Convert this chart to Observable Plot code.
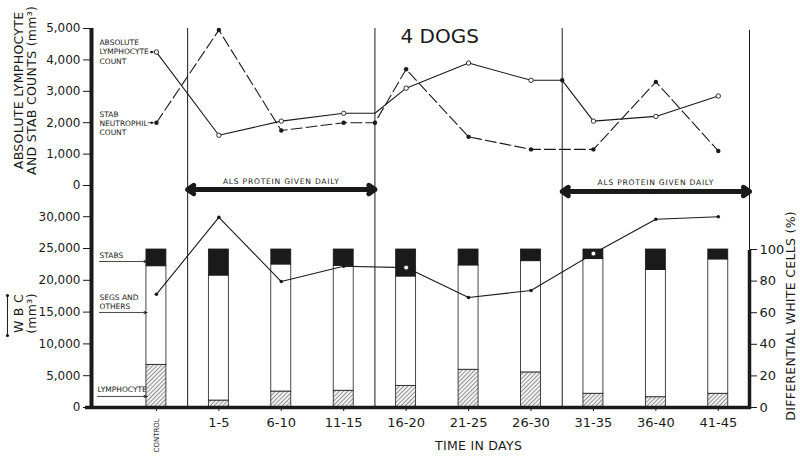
<!DOCTYPE html>
<html><head><meta charset="utf-8">
<script src="https://cdn.jsdelivr.net/npm/d3@7"></script>
<script src="https://cdn.jsdelivr.net/npm/@observablehq/plot@0.6"></script>
<style>
body{margin:0;background:#fff;}
#chart{position:relative;width:800px;height:462px;}
#chart svg{position:absolute;left:0;top:0;}
</style></head><body><div id="chart"></div>
<script>
// ---- data ----
const categories = ["CONTROL","1-5","6-10","11-15","16-20","21-25","26-30","31-35","36-40","41-45"];
// top panel positions on category index (x.5 = boundary of a treatment period)
const lymphPos   = [0, 1, 2, 3, 3.5, 4, 5, 6, 6.5, 7, 8, 9];
const lymphCount = [4250, 1600, 2050, 2300, 2300, 3100, 3900, 3350, 3350, 2050, 2200, 2850];
const stabPos    = [0, 1, 2, 3, 3.5, 4, 5, 6, 7, 8, 9];
const stabCount  = [2000, 4950, 1750, 2000, 2000, 3700, 1550, 1150, 1150, 3300, 1100];
// bottom panel
const wbc        = [17800, 29900, 19800, 22200, 22000, 17300, 18400, 24200, 29600, 30000];
const lymphPct   = [27, 4.4, 10.1, 10.6, 13.7, 23.9, 22.2, 8.7, 6.5, 8.7];
const stabPct    = [10.6, 16.5, 9.5, 10.3, 17.1, 10.1, 7.4, 6.1, 12.9, 6.3];
const alsPeriods = [[0.5, 3.5], [6.5, 9.5]];
const periodBounds = [0.5, 3.5, 6.5];
const topTicks = [0, 1000, 2000, 3000, 4000, 5000];
const wbcTicks = [0, 5000, 10000, 15000, 20000, 25000, 30000];
const pctTicks = [0, 20, 40, 60, 80, 100];

// ---- derived tables ----
const lymph = lymphPos.map((p, i) => ({pos: p, v: lymphCount[i]}));
const stab = stabPos.map((p, i) => ({pos: p, v: stabCount[i]}));
const wbcData = wbc.map((v, i) => ({i, v}));
const openWbc = d => d.i === 4 || d.i === 7;
const bars = [];
categories.forEach((c, i) => {
  const l = lymphPct[i], s = stabPct[i], g = 100 - l - s;
  bars.push({i, type: "lymph", y1: 0, y2: l});
  bars.push({i, type: "segs", y1: l, y2: l + g});
  bars.push({i, type: "stab", y1: l + g, y2: 100});
});

const ink = "#1a1a1a";
const font = "DejaVu Sans";
const common = {
  width: 800, height: 462,
  marginTop: 28, marginBottom: 55, marginLeft: 91, marginRight: 51,
  style: {background: "transparent", fontFamily: font, color: ink, overflow: "visible"},
  x: {domain: [-1.04, 9.5], axis: null}
};
const fill = {lymph: "url(#hatch)", segs: "white", stab: ink};

// ---- percent panel (bars + right axis) ----
const p3 = Plot.plot({
  ...common,
  y: {domain: [0, 100], range: [407, 249], axis: null},
  marks: [
    () => {
      const defs = d3.create("svg:defs");
      const p = defs.append("pattern").attr("id", "hatch").attr("patternUnits", "userSpaceOnUse")
        .attr("width", 3).attr("height", 3).attr("patternTransform", "rotate(45)");
      p.append("rect").attr("width", 3).attr("height", 3).attr("fill", "#f2f2f2");
      p.append("line").attr("x1", 0.5).attr("y1", 0).attr("x2", 0.5).attr("y2", 3)
        .attr("stroke", "#8a8a8a").attr("stroke-width", 0.9);
      return defs.node();
    },
    Plot.rect(bars, {x1: d => d.i - 0.16, x2: d => d.i + 0.16, y1: "y1", y2: "y2",
      fill: d => fill[d.type], stroke: ink, strokeWidth: 0.8}),
    Plot.ruleX([9.5], {y1: -1.3, y2: 99.4, strokeWidth: 3.5, stroke: ink}),
    Plot.axisY({ticks: pctTicks, anchor: "right", tickSize: 7, tickPadding: 3, fontSize: 13, label: null}),
    Plot.text(["DIFFERENTIAL WHITE CELLS (%)"], {x: 10.16, y: 58, rotate: -90, fontSize: 12.5, lineAnchor: "middle"}),
    // legend for bar segments
    Plot.text(["STABS"], {x: -0.912, y: 96.2, textAnchor: "start", fontSize: 7.5, lineAnchor: "middle"}),
    Plot.text(["SEGS AND\nOTHERS"], {x: -0.912, y: 66.8, textAnchor: "start", fontSize: 7.5, lineAnchor: "middle", lineHeight: 1.2}),
    Plot.text(["LYMPHOCYTE"], {x: -0.944, y: 11.4, textAnchor: "start", fontSize: 7.5, lineAnchor: "middle"}),
    Plot.arrow([92.4, 60.1, 7.0], {x1: (d, i) => i === 2 ? -0.944 : -0.912, x2: -0.15, y1: d => d, y2: d => d,
      strokeWidth: 0.8, headLength: 6, headAngle: 40, stroke: ink})
  ]
});

// ---- WBC panel ----
const p2 = Plot.plot({
  ...common,
  y: {domain: [0, 30000], range: [407, 216.2], axis: null},
  marks: [
    Plot.ruleX(periodBounds, {stroke: ink, strokeWidth: 1}),
    Plot.ruleX([9.5], {y1: 24700, y2: 59300, stroke: ink, strokeWidth: 1}),
    Plot.ruleX([-1.04], {strokeWidth: 4, stroke: ink}),
    Plot.ruleY([0], {x1: -1.136, x2: 9.53, strokeWidth: 3.5, stroke: ink}),
    Plot.axisY({ticks: wbcTicks, tickFormat: d3.format(","), anchor: "left", tickSize: 8, tickPadding: 3, fontSize: 12, label: null}),
    Plot.axisX({ticks: d3.range(categories.length), tickFormat: i => i === 0 ? "" : categories[i],
      anchor: "bottom", tickSize: 4, tickPadding: 6, fontSize: 13, label: null}),
    Plot.text(["CONTROL"], {x: 0, y: -1700, rotate: -90, textAnchor: "end", fontSize: 7, lineAnchor: "middle"}),
    Plot.text(["TIME IN DAYS"], {x: 5.16, y: -6130, fontSize: 12.5, lineAnchor: "middle"}),
    Plot.line(wbcData, {x: "i", y: "v", stroke: ink, strokeWidth: 1.1}),
    Plot.dot(wbcData.filter(d => !openWbc(d)), {x: "i", y: "v", r: 1.8, fill: ink}),
    Plot.dot(wbcData.filter(openWbc), {x: "i", y: "v", r: 2.4, fill: "white", stroke: ink, strokeWidth: 0.8}),
    Plot.text(["W B C\n(mm³)"], {x: -2.105, y: 14780, rotate: -90, fontSize: 12.5, lineAnchor: "middle", lineHeight: 1.05}),
    Plot.ruleX([-2.386], {y1: 11320, y2: 17610, stroke: ink, strokeWidth: 1}),
    Plot.dot([11320, 17610], {x: -2.386, y: d => d, r: 1.6, fill: ink})
  ]
});

// ---- top panel: counts ----
const p1 = Plot.plot({
  ...common,
  y: {domain: [0, 5000], range: [185, 28], axis: null},
  marks: [
    Plot.axisY({ticks: topTicks, tickFormat: d3.format(","), anchor: "left", tickSize: 8, tickPadding: 3, fontSize: 12, label: null}),
    Plot.text(["ABSOLUTE LYMPHOCYTE\nAND STAB COUNTS (mm³)"], {x: -2.105, y: 3030, rotate: -90, fontSize: 12.5, lineAnchor: "middle", lineHeight: 1.05}),
    Plot.line(lymph, {x: "pos", y: "v", stroke: ink, strokeWidth: 1.1}),
    Plot.line(stab, {x: "pos", y: "v", stroke: ink, strokeWidth: 1.1, strokeDasharray: "11,4"}),
    Plot.dot(lymph.filter(d => d.pos !== 3.5 && d.pos !== 6.5), {x: "pos", y: "v", r: 2.2,
      fill: "white", stroke: ink, strokeWidth: 0.9}),
    Plot.dot(lymph.filter(d => d.pos === 6.5), {x: "pos", y: "v", r: 2.2, fill: ink}),
    Plot.dot(stab, {x: "pos", y: "v", r: 2.2, fill: ink}),
    // legend
    Plot.text(["ABSOLUTE\nLYMPHOCYTE\nCOUNT"], {x: -0.912, y: 4268, textAnchor: "start", fontSize: 7.5, lineAnchor: "middle", lineHeight: 1.24}),
    Plot.text(["STAB\nNEUTROPHIL\nCOUNT"], {x: -0.912, y: 1984, textAnchor: "start", fontSize: 7.5, lineAnchor: "middle", lineHeight: 1.24}),
    Plot.ruleY([lymphCount[0]], {x1: -0.1, x2: -0.035, stroke: ink, strokeWidth: 0.8}),
    Plot.ruleY([stabCount[0]], {x1: -0.13, x2: -0.035, stroke: ink, strokeWidth: 0.8}),
    Plot.dot([lymphCount[0], stabCount[0]], {x: -0.075, y: d => d, r: 1.2, fill: ink}),
    // ALS treatment arrows
    Plot.arrow(alsPeriods, {x1: d => (d[0] + d[1]) / 2, x2: d => d[0], y1: (d, i) => i ? -191 : -127, y2: (d, i) => i ? -191 : -127,
      strokeWidth: 5, headLength: 2.2, headAngle: 70, stroke: ink}),
    Plot.arrow(alsPeriods, {x1: d => (d[0] + d[1]) / 2, x2: d => d[1], y1: (d, i) => i ? -191 : -127, y2: (d, i) => i ? -191 : -127,
      strokeWidth: 5, headLength: 2.2, headAngle: 70, stroke: ink}),
    Plot.text(alsPeriods, {x: d => (d[0] + d[1]) / 2, y: (d, i) => i ? 96 : 127, text: () => "ALS PROTEIN GIVEN DAILY",
      fontSize: 7.6, lineAnchor: "middle"}),
    Plot.text(["4 DOGS"], {x: 3.909, y: 4745, textAnchor: "start", fontSize: 20, lineAnchor: "middle"})
  ]
});

const chart = document.getElementById("chart");
chart.append(p3, p2, p1);
// the treatment lettering of the original is widely spaced
d3.selectAll('#chart g[font-size="7.6"]').attr("letter-spacing", "0.75");
d3.selectAll('#chart g[font-size="12.5"]').attr("letter-spacing", "0.3");
</script></body></html>
